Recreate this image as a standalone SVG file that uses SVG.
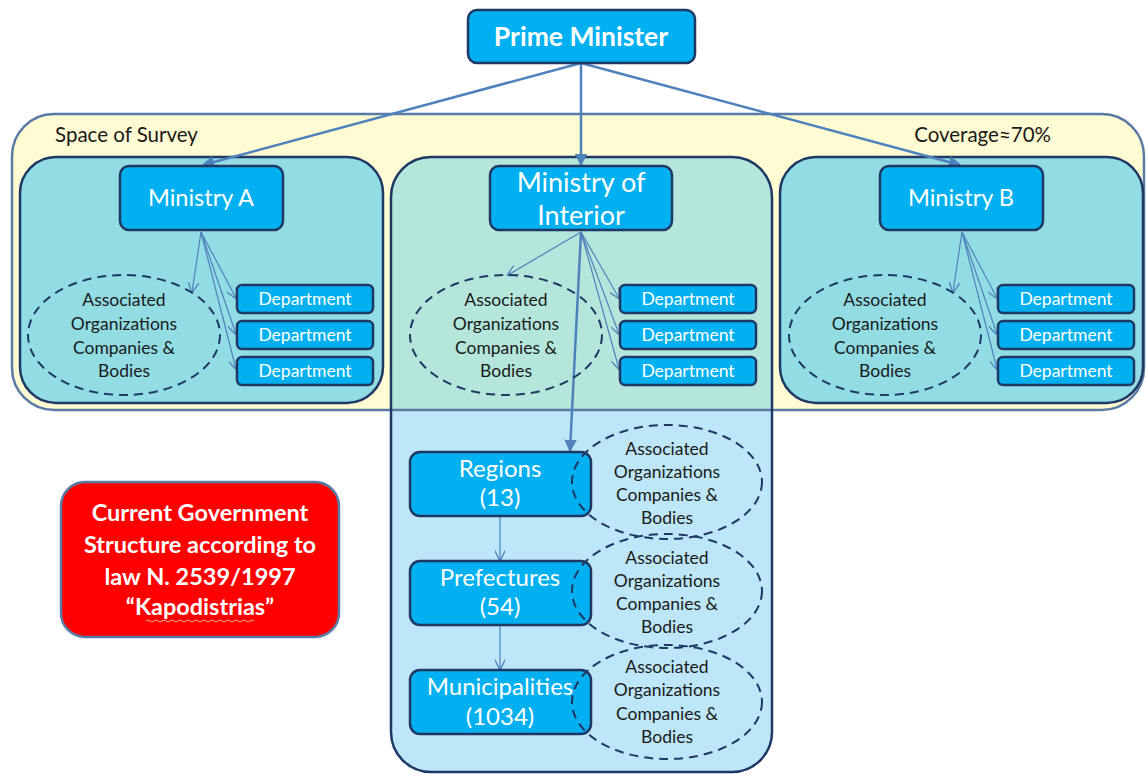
<svg xmlns="http://www.w3.org/2000/svg" width="1147" height="774" viewBox="0 0 1147 774">
<defs>
<style>
.box{fill:#00B0F0;stroke:#1F3864;stroke-width:2.5}
.panel{stroke:#1F3864;stroke-width:2.5}
.ell{fill:none;stroke:#1F3864;stroke-width:2;stroke-dasharray:9 6}
.wt{fill:#FFFFFF;font-family:Lato,"Liberation Sans",sans-serif;text-anchor:middle}
.dk{fill:#1A1A1A;font-family:Lato,"Liberation Sans",sans-serif;text-anchor:middle;font-size:17.5px}
.dep{font-size:17.5px}
.big{stroke:#4F81BD;stroke-width:2.5;fill:none}
.thin{stroke:#4F81BD;stroke-width:1.2;fill:none}
</style>
<marker id="ah" viewBox="0 0 10 10" refX="9" refY="5" markerWidth="5" markerHeight="5" orient="auto" markerUnits="strokeWidth">
<path d="M0,0 L10,5 L0,10 z" fill="#4F81BD"/>
</marker>
<marker id="av" viewBox="0 0 10 10" refX="9" refY="5" markerWidth="9" markerHeight="9" orient="auto" markerUnits="strokeWidth">
<path d="M0,0 L10,5 L0,10" fill="none" stroke="#4F81BD" stroke-width="1.2"/>
</marker>
</defs>
<rect width="1147" height="774" fill="#FFFFFF"/>

<g id="space-of-survey">
<rect x="12" y="114" width="1132" height="296" rx="42" fill="#FFFBD3" stroke="#5A7BA6" stroke-width="2.5"/>
<text x="55" y="142" class="dk" style="text-anchor:start;font-size:20.5px">Space of Survey</text>
<text x="1051" y="142" class="dk" style="text-anchor:end;font-size:20.5px">Coverage≈70%</text>
</g>

<g id="panel-ministry-a">
<rect x="20" y="157" width="363" height="246" rx="36" class="panel" fill="#92DCE4"/>
</g>
<g id="panel-ministry-b">
<rect x="780" y="157" width="363" height="246" rx="36" class="panel" fill="#92DCE4"/>
</g>
<g id="panel-interior">
<path d="M431,157 H732 A40,40 0 0 1 772,197 V732 A40,40 0 0 1 732,772 H431 A40,40 0 0 1 391,732 V197 A40,40 0 0 1 431,157 Z" fill="#BDE6F8"/>
<path d="M431,157 H732 A40,40 0 0 1 772,197 V410 H391 V197 A40,40 0 0 1 431,157 Z" fill="#B4E6DB"/>
<line x1="391" y1="410" x2="772" y2="410" stroke="#5A7BA6" stroke-width="2.5"/>
<path d="M431,157 H732 A40,40 0 0 1 772,197 V732 A40,40 0 0 1 732,772 H431 A40,40 0 0 1 391,732 V197 A40,40 0 0 1 431,157 Z" fill="none" class="panel"/>
</g>

<g id="connectors">
<line x1="581" y1="63" x2="203" y2="165" class="big" marker-end="url(#ah)"/>
<line x1="581" y1="63" x2="581" y2="165" class="big" marker-end="url(#ah)"/>
<line x1="581" y1="63" x2="960" y2="165" class="big" marker-end="url(#ah)"/>
<line x1="201" y1="232" x2="192" y2="292" class="thin" marker-end="url(#av)"/>
<line x1="201" y1="232" x2="236" y2="298" class="thin" marker-end="url(#av)"/>
<line x1="201" y1="232" x2="236" y2="334" class="thin" marker-end="url(#av)"/>
<line x1="201" y1="232" x2="236" y2="369" class="thin" marker-end="url(#av)"/>
<line x1="581" y1="232" x2="508" y2="275" class="thin" marker-end="url(#av)"/>
<line x1="581" y1="232" x2="619" y2="298" class="thin" marker-end="url(#av)"/>
<line x1="581" y1="232" x2="619" y2="334" class="thin" marker-end="url(#av)"/>
<line x1="581" y1="232" x2="619" y2="369" class="thin" marker-end="url(#av)"/>
<line x1="962" y1="232" x2="953" y2="292" class="thin" marker-end="url(#av)"/>
<line x1="962" y1="232" x2="997" y2="298" class="thin" marker-end="url(#av)"/>
<line x1="962" y1="232" x2="997" y2="334" class="thin" marker-end="url(#av)"/>
<line x1="962" y1="232" x2="997" y2="369" class="thin" marker-end="url(#av)"/>
<line x1="581" y1="232" x2="570" y2="451" class="big" marker-end="url(#ah)"/>
<line x1="500" y1="517" x2="500" y2="560" class="thin" marker-end="url(#av)"/>
<line x1="500" y1="626" x2="500" y2="669" class="thin" marker-end="url(#av)"/>
</g>

<g id="prime-minister">
<rect x="468" y="10" width="227" height="53" rx="9" class="box"/>
<text x="581" y="46" class="wt" style="font-size:26.5px;font-weight:bold">Prime Minister</text>
</g>

<g id="ministry-a">
<rect x="120" y="166" width="163" height="64" rx="9" class="box"/>
<text x="201" y="206" class="wt" style="font-size:23.5px">Ministry A</text>
</g>
<g id="ministry-interior">
<rect x="490" y="166" width="182" height="64" rx="9" class="box"/>
<text x="581" y="192" class="wt" style="font-size:27px">Ministry of</text>
<text x="581" y="225" class="wt" style="font-size:27px">Interior</text>
</g>
<g id="ministry-b">
<rect x="880" y="166" width="163" height="64" rx="9" class="box"/>
<text x="961" y="206" class="wt" style="font-size:23.5px">Ministry B</text>
</g>

<g id="departments-a">
<rect x="237" y="285" width="136" height="28" rx="5" class="box"/>
<text x="305" y="305" class="wt dep">Department</text>
<rect x="237" y="321" width="136" height="28" rx="5" class="box"/>
<text x="305" y="341" class="wt dep">Department</text>
<rect x="237" y="357" width="136" height="28" rx="5" class="box"/>
<text x="305" y="377" class="wt dep">Department</text>
</g>
<g id="departments-interior">
<rect x="620" y="285" width="136" height="28" rx="5" class="box"/>
<text x="688" y="305" class="wt dep">Department</text>
<rect x="620" y="321" width="136" height="28" rx="5" class="box"/>
<text x="688" y="341" class="wt dep">Department</text>
<rect x="620" y="357" width="136" height="28" rx="5" class="box"/>
<text x="688" y="377" class="wt dep">Department</text>
</g>
<g id="departments-b">
<rect x="998" y="285" width="136" height="28" rx="5" class="box"/>
<text x="1066" y="305" class="wt dep">Department</text>
<rect x="998" y="321" width="136" height="28" rx="5" class="box"/>
<text x="1066" y="341" class="wt dep">Department</text>
<rect x="998" y="357" width="136" height="28" rx="5" class="box"/>
<text x="1066" y="377" class="wt dep">Department</text>
</g>

<g id="assoc-a">
<ellipse cx="124" cy="335" rx="96" ry="60" class="ell"/>
<text class="dk"><tspan x="124" y="306">Associated</tspan><tspan x="124" y="330">Organizations</tspan><tspan x="124" y="354">Companies &amp;</tspan><tspan x="124" y="377">Bodies</tspan></text>
</g>
<g id="assoc-interior">
<ellipse cx="506" cy="335" rx="96" ry="60" class="ell"/>
<text class="dk"><tspan x="506" y="306">Associated</tspan><tspan x="506" y="330">Organizations</tspan><tspan x="506" y="354">Companies &amp;</tspan><tspan x="506" y="377">Bodies</tspan></text>
</g>
<g id="assoc-b">
<ellipse cx="885" cy="335" rx="96" ry="60" class="ell"/>
<text class="dk"><tspan x="885" y="306">Associated</tspan><tspan x="885" y="330">Organizations</tspan><tspan x="885" y="354">Companies &amp;</tspan><tspan x="885" y="377">Bodies</tspan></text>
</g>

<g id="regions">
<rect x="410" y="452" width="181" height="64" rx="10" class="box"/>
<text x="500" y="477" class="wt" style="font-size:24px">Regions</text>
<text x="500" y="506" class="wt" style="font-size:24px">(13)</text>
</g>
<g id="prefectures">
<rect x="410" y="561" width="181" height="64" rx="10" class="box"/>
<text x="500" y="586" class="wt" style="font-size:24px">Prefectures</text>
<text x="500" y="615" class="wt" style="font-size:24px">(54)</text>
</g>
<g id="municipalities">
<rect x="410" y="670" width="181" height="64" rx="10" class="box"/>
<text x="500" y="695" class="wt" style="font-size:24px">Municipalities</text>
<text x="500" y="725" class="wt" style="font-size:24px">(1034)</text>
</g>

<g id="assoc-regions">
<ellipse cx="667" cy="482" rx="95" ry="57" class="ell"/>
<text class="dk"><tspan x="667" y="455">Associated</tspan><tspan x="667" y="478">Organizations</tspan><tspan x="667" y="501">Companies &amp;</tspan><tspan x="667" y="524">Bodies</tspan></text>
</g>
<g id="assoc-prefectures">
<ellipse cx="667" cy="591" rx="95" ry="57" class="ell"/>
<text class="dk"><tspan x="667" y="564">Associated</tspan><tspan x="667" y="587">Organizations</tspan><tspan x="667" y="610">Companies &amp;</tspan><tspan x="667" y="633">Bodies</tspan></text>
</g>
<g id="assoc-municipalities">
<ellipse cx="667" cy="702" rx="95" ry="57" class="ell"/>
<text class="dk"><tspan x="667" y="673">Associated</tspan><tspan x="667" y="696">Organizations</tspan><tspan x="667" y="720">Companies &amp;</tspan><tspan x="667" y="743">Bodies</tspan></text>
</g>

<g id="legend">
<rect x="61" y="482" width="278" height="155" rx="24" fill="#FF0000" stroke="#5A7BA6" stroke-width="2.5"/>
<text class="wt" style="font-size:23.5px;font-weight:bold"><tspan x="200" y="521">Current Government</tspan><tspan x="200" y="553">Structure according to</tspan><tspan x="200" y="585">law N. 2539/1997</tspan><tspan x="200" y="615">“Kapodistrias”</tspan></text>
<path d="M146,621 q2,-2 4,0 t4,0 t4,0 t4,0 t4,0 t4,0 t4,0 t4,0 t4,0 t4,0 t4,0 t4,0 t4,0 t4,0 t4,0 t4,0 t4,0 t4,0 t4,0 t4,0 t4,0 t4,0 t4,0 t4,0 t4,0 t4,0 t4,0" fill="none" stroke="#E8B0A0" stroke-width="1"/>
</g>
</svg>
